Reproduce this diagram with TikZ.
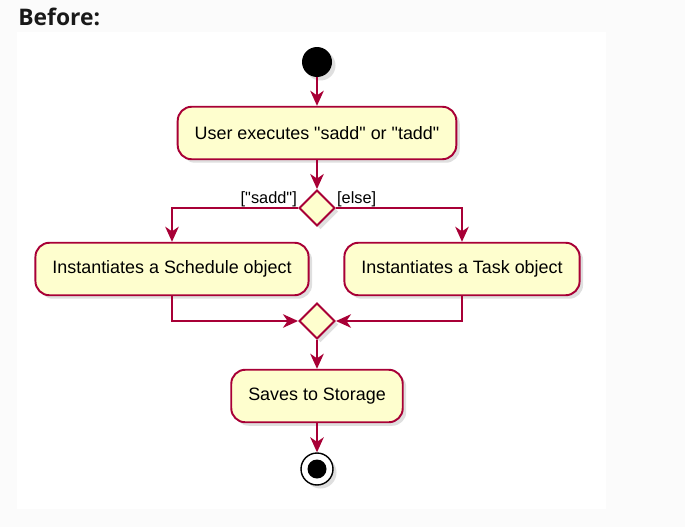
\documentclass[tikz,border=0pt]{standalone}
\usepackage{fontspec}
\setmainfont{Liberation Sans}
\newfontfamily\titlefont{Open Sans}
\usetikzlibrary{arrows.meta,shapes.geometric,shadows}

\definecolor{umlred}{HTML}{A80036}
\definecolor{umlfill}{HTML}{FEFECE}
\definecolor{pagegrey}{HTML}{FBFBFB}

\tikzset{
  umlshadow/.style={drop shadow={shadow xshift=0.07cm,shadow yshift=-0.07cm,opacity=0.25}},
  action/.style={draw=umlred, fill=umlfill, line width=1.1pt, rounded corners=0.28cm,
    inner xsep=0.34cm, minimum height=1.05cm, umlshadow,
    font=\fontsize{10.2}{12}\selectfont},
  branch/.style={diamond, draw=umlred, fill=umlfill, line width=1.1pt, inner sep=0pt,
    minimum size=0.72cm, umlshadow},
  guard/.style={inner sep=0.5pt, font=\fontsize{9.3}{11}\selectfont},
  flow/.style={draw=umlred, line width=1.1pt,
    -{Stealth[length=0.3cm,width=0.27cm,inset=0.09cm]}}
}

\begin{document}
\begin{tikzpicture}[x=0.02cm,y=-0.02cm]
  % page and frame
  \fill[pagegrey] (0,0) rectangle (685,527);
  \fill[white] (17,32) rectangle (606,509);
  \useasboundingbox (0,0) rectangle (685,527);

  \node (title) at (18,17) [anchor=west, inner sep=0pt, text=black!90,
    font=\titlefont\bfseries\fontsize{13}{15}\selectfont] {Before:};

  \node (start) at (317,62) [circle, fill=black, minimum size=0.6cm, inner sep=0pt, umlshadow] {};
  \node (user)  at (317,133) [action] {User executes \textquotedbl sadd\textquotedbl{} or \textquotedbl tadd\textquotedbl};
  \node (split) at (317,208) [branch] {};
  \node (sched) at (172,269) [action] {Instantiates a Schedule object};
  \node (task)  at (462,269) [action] {Instantiates a Task object};
  \node (merge) at (317,321) [branch] {};
  \node (save)  at (317,396) [action] {Saves to Storage};
  \node (stop)  at (317,469) [circle, draw=black, line width=0.8pt, fill=white,
    minimum size=0.64cm, inner sep=0pt, umlshadow] {};
  \fill (stop) circle (0.19cm);

  \node (sadd) at (split.west) [guard, anchor=south east] {[\textquotedbl sadd\textquotedbl]};
  \node (else) at (split.east) [guard, anchor=south west] {[else]};

  \draw[flow] (start) -- (user);
  \draw[flow] (user) -- (split);
  \draw[flow] (node cs:name=split,anchor=west) -| (node cs:name=sched,anchor=north);
  \draw[flow] (node cs:name=split,anchor=east) -| (node cs:name=task,anchor=north);
  \draw[flow] (node cs:name=sched,anchor=south) |- (node cs:name=merge,anchor=west);
  \draw[flow] (node cs:name=task,anchor=south)  |- (node cs:name=merge,anchor=east);
  \draw[flow] (merge) -- (save);
  \draw[flow] (save) -- (stop);
\end{tikzpicture}
\end{document}
